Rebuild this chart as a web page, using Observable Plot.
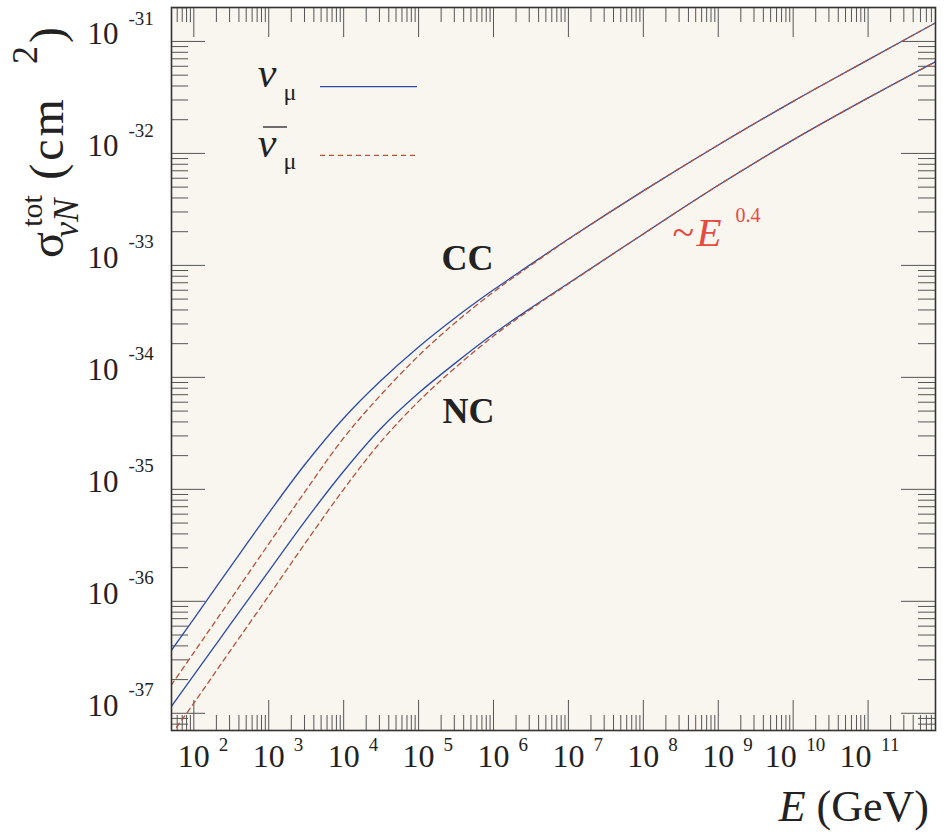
<!DOCTYPE html>
<html><head><meta charset="utf-8">
<script src="https://cdn.jsdelivr.net/npm/d3@7"></script>
<script src="https://cdn.jsdelivr.net/npm/@observablehq/plot@0.6"></script>
<style>html,body{margin:0;padding:0;background:#fff;} svg{display:block}</style>
</head><body><div id="chart"></div>
<script>
// ---- data ----
const energyGeV = [50, 1e2, 3e2, 1e3, 3e3, 1e4, 3e4, 1e5, 3e5, 1e6, 3e6, 1e7, 1e8, 1e9, 1e10, 1e11, 8e11];
const sigmaCCnu    = [3.63e-37, 6.97e-37, 1.98e-36, 6.14e-36, 1.65e-35, 4.32e-35, 9.10e-35, 1.87e-34, 3.36e-34, 6.05e-34, 1.00e-33, 1.72e-33, 4.63e-33, 1.19e-32, 2.92e-32, 6.85e-32, 1.47e-31];
const sigmaCCnubar = [1.78e-37, 3.49e-37, 1.01e-36, 3.26e-36, 9.38e-36, 2.88e-35, 6.75e-35, 1.56e-34, 3.03e-34, 5.78e-34, 9.79e-34, 1.71e-33, 4.63e-33, 1.19e-32, 2.92e-32, 6.85e-32, 1.47e-31];
const sigmaNCnu    = [1.15e-37, 2.19e-37, 6.10e-37, 1.86e-36, 5.13e-36, 1.45e-35, 3.39e-35, 7.24e-35, 1.32e-34, 2.45e-34, 4.07e-34, 6.92e-34, 1.91e-33, 5.19e-33, 1.32e-32, 3.13e-32, 6.61e-32];
const sigmaNCnubar = [6.46e-38, 1.23e-37, 3.55e-37, 1.12e-36, 3.24e-36, 1.00e-35, 2.57e-35, 6.10e-35, 1.20e-34, 2.34e-34, 3.98e-34, 6.85e-34, 1.91e-33, 5.19e-33, 1.32e-32, 3.13e-32, 6.61e-32];
const xTickExponents = [2, 3, 4, 5, 6, 7, 8, 9, 10, 11];
const yTickExponents = [-37, -36, -35, -34, -33, -32, -31];
const xDomain = [50.35, 7.94e11];
const yDomain = [7.02e-38, 2.01e-31];

// ---- styles ----
const BLUE = "#2b4ba5", RED = "#b3533d", ANNOT = "#e8493e", TICK = "#555";
const FONT = "Liberation Serif";
const W = 950, H = 833, ML = 171, MR = 15, MT = 7, MB = 103;
const FW = W - ML - MR, FH = H - MT - MB;

const series = [
  {key: "CC nu", values: sigmaCCnu, dashed: false},
  {key: "NC nu", values: sigmaNCnu, dashed: false},
  {key: "CC nubar", values: sigmaCCnubar, dashed: true},
  {key: "NC nubar", values: sigmaNCnubar, dashed: true}
];
const rows = series.flatMap(s => energyGeV.map((E, i) => ({E, sigma: s.values[i], series: s.key, dashed: s.dashed})));

const inDom = (v, d) => v >= d[0] && v <= d[1];
const xMajor = xTickExponents.map(e => 10 ** e);
const yMajor = yTickExponents.map(e => 10 ** e);
const xMinor = d3.range(1, 13).flatMap(n => d3.range(2, 10).map(k => k * 10 ** n)).filter(v => inDom(v, xDomain));
const yMinor = d3.range(-38, -30).flatMap(n => d3.range(2, 10).map(k => k * 10 ** n)).filter(v => inDom(v, yDomain));

const xMajOne = xMajor.filter(v => Math.log10(v) < 9.5);
const xMajTwo = xMajor.filter(v => Math.log10(v) > 9.5);
const expStr = v => String(Math.round(Math.log10(v)));

const chart = Plot.plot({
  width: W, height: H,
  marginLeft: ML, marginRight: MR, marginTop: MT, marginBottom: MB,
  x: {type: "log", domain: xDomain, axis: null},
  y: {type: "log", domain: yDomain, axis: null},
  style: {fontFamily: FONT, background: "#fff", color: "#222"},
  marks: [
    Plot.frame({fill: "#f9f6f0", stroke: "none"}),
    // ticks inside the frame on all four sides
    Plot.tickX(xMajor, {x: d => d, stroke: TICK, insetTop: FH - 30}),
    Plot.tickX(xMinor, {x: d => d, stroke: TICK, insetTop: FH - 15}),
    Plot.tickX(xMajor, {x: d => d, stroke: TICK, insetBottom: FH - 30}),
    Plot.tickX(xMinor, {x: d => d, stroke: TICK, insetBottom: FH - 15}),
    Plot.tickY(yMajor, {y: d => d, stroke: TICK, insetRight: FW - 34}),
    Plot.tickY(yMinor, {y: d => d, stroke: TICK, insetRight: FW - 17}),
    Plot.tickY(yMajor, {y: d => d, stroke: TICK, insetLeft: FW - 34}),
    Plot.tickY(yMinor, {y: d => d, stroke: TICK, insetLeft: FW - 17}),
    // curves
    Plot.line(rows.filter(r => !r.dashed), {x: "E", y: "sigma", z: "series", stroke: BLUE, strokeWidth: 1.3, curve: "catmull-rom", clip: true}),
    Plot.line(rows.filter(r => r.dashed), {x: "E", y: "sigma", z: "series", stroke: RED, strokeWidth: 1.3, strokeDasharray: "5,4", curve: "catmull-rom", clip: true}),
    Plot.frame({stroke: "#333", strokeWidth: 1.6}),
    // x tick labels
    Plot.text(xMajOne, {x: d => d, text: () => "10", frameAnchor: "bottom", dy: 36, fontSize: 32, fill: "#222"}),
    Plot.text(xMajOne, {x: d => d, text: expStr, frameAnchor: "bottom", textAnchor: "start", dx: 25, dy: 20, fontSize: 19, fill: "#222"}),
    Plot.text(xMajTwo, {x: d => d, text: () => "10", frameAnchor: "bottom", dx: -12.5, dy: 36, fontSize: 32, fill: "#222"}),
    Plot.text(xMajTwo, {x: d => d, text: expStr, frameAnchor: "bottom", textAnchor: "start", dx: 13, dy: 20, fontSize: 19, fill: "#222"}),
    // y tick labels
    Plot.text(yMajor, {y: d => d, text: () => "10", frameAnchor: "left", textAnchor: "end", dx: -53, dy: -7.4, fontSize: 31, fill: "#222"}),
    Plot.text(yMajor, {y: d => d, text: expStr, frameAnchor: "left", textAnchor: "start", dx: -43, dy: -23, fontSize: 19, fill: "#222"}),
    // annotations
    Plot.text([{E: 4.5e5, s: 1.15e-33}], {x: "E", y: "s", text: () => "CC", fontSize: 36, fontWeight: "bold", fill: "#222"}),
    Plot.text([{E: 4.65e5, s: 5.0e-35}], {x: "E", y: "s", text: () => "NC", fontSize: 36, fontWeight: "bold", fill: "#222"}),
    Plot.text([{E: 2.46e8, s: 1.945e-33}], {x: "E", y: "s", text: () => "~", textAnchor: "start", fontSize: 40, fill: ANNOT}),
    Plot.text([{E: 2.46e8, s: 1.945e-33}], {x: "E", y: "s", text: () => "E", textAnchor: "start", dx: 24, fontSize: 41, fontStyle: "italic", fill: ANNOT}),
    Plot.text([{E: 2.46e8, s: 1.945e-33}], {x: "E", y: "s", text: () => "0.4", textAnchor: "start", dx: 63, dy: -17.6, fontSize: 20, fill: ANNOT})
  ]
});
document.getElementById("chart").append(chart);

// ---- axis titles and legend ----
const svg = d3.select(chart);
// y title, rotated (baseline at x = 63)
const yt = svg.append("g").attr("transform", "translate(63,0) rotate(-90)")
  .attr("font-family", FONT).attr("fill", "#222");
yt.append("text").attr("x", -245).attr("y", 0).attr("font-size", 48).text("σ");
yt.append("text").attr("x", -211).attr("y", -21).attr("font-size", 30).text("tot");
yt.append("text").attr("x", -218).attr("y", 15).attr("font-size", 35).attr("font-style", "italic").text("νN");
yt.append("text").attr("x", -138).attr("y", 0).attr("font-size", 48).attr("letter-spacing", 3).text("(cm");
yt.append("text").attr("x", -55).attr("y", -26).attr("font-size", 36).text("2");
yt.append("text").attr("x", -35).attr("y", 0).attr("font-size", 48).text(")");

// x title
const xt = svg.append("text").attr("x", 929).attr("y", 821).attr("text-anchor", "end")
  .attr("font-family", FONT).attr("font-size", 44).attr("fill", "#222");
xt.append("tspan").attr("font-style", "italic").text("E");
xt.append("tspan").text(" (GeV)");

// legend
const lg = svg.append("g").attr("font-family", FONT).attr("fill", "#222");
lg.append("text").attr("x", 267).attr("y", 87).attr("font-size", 42).attr("font-style", "italic").text("ν");
lg.append("text").attr("x", 290).attr("y", 100).attr("font-size", 24).text("μ");
lg.append("line").attr("x1", 320).attr("x2", 417).attr("y1", 86.7).attr("y2", 86.7).attr("stroke", BLUE).attr("stroke-width", 1.3);
lg.append("line").attr("x1", 263).attr("x2", 287).attr("y1", 127).attr("y2", 127).attr("stroke", "#333").attr("stroke-width", 1.4);
lg.append("text").attr("x", 267).attr("y", 157).attr("font-size", 42).attr("font-style", "italic").text("ν");
lg.append("text").attr("x", 290).attr("y", 169).attr("font-size", 24).text("μ");
lg.append("line").attr("x1", 320).attr("x2", 417).attr("y1", 155.3).attr("y2", 155.3).attr("stroke", RED).attr("stroke-width", 1.3).attr("stroke-dasharray", "5,4");
</script>
</body></html>
